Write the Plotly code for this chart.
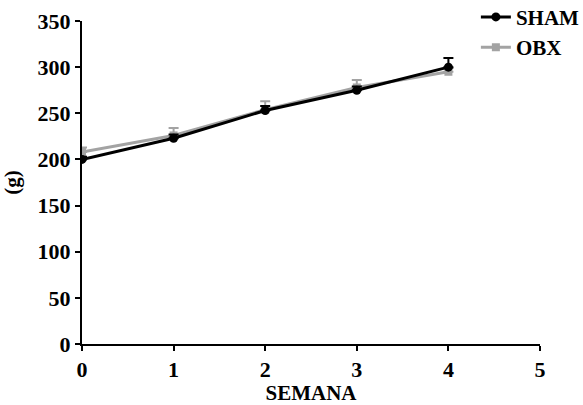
import plotly.graph_objects as go

# Body weight per week for each group
semana = [0, 1, 2, 3, 4]
sham_mean = [200, 223, 253, 275, 300]
sham_err = [3, 4, 5, 4, 10]
obx_mean = [208, 226, 254, 278, 295]
obx_err = [5, 8, 9, 8, 4]

font_family = "Liberation Serif"

fig = go.Figure()

fig.add_trace(go.Scatter(
    x=semana, y=obx_mean, name="<b>OBX</b>", mode="lines+markers",
    line=dict(color="#a3a3a3", width=3),
    marker=dict(symbol="square", size=8, color="#a3a3a3"),
    error_y=dict(type="data", array=obx_err, arrayminus=[0] * len(obx_err),
                 symmetric=False, color="#a3a3a3", thickness=2, width=5),
))
fig.add_trace(go.Scatter(
    x=semana, y=sham_mean, name="<b>SHAM</b>", mode="lines+markers",
    line=dict(color="black", width=3),
    marker=dict(symbol="circle", size=9, color="black"),
    error_y=dict(type="data", array=sham_err, arrayminus=[0] * len(sham_err),
                 symmetric=False, color="black", thickness=2, width=5),
))

axis_common = dict(
    showgrid=False, zeroline=False, showline=True, linecolor="black",
    linewidth=2, ticks="outside", ticklen=5, tickwidth=2, tickcolor="black",
    tickfont=dict(family=font_family, size=22, color="black"),
)

fig.update_xaxes(
    range=[0, 5], tickvals=[0, 1, 2, 3, 4, 5],
    ticktext=["<b>%d</b>" % v for v in [0, 1, 2, 3, 4, 5]],
    title=dict(text="<b>SEMANA</b>", font=dict(family=font_family, size=21, color="black"),
               standoff=6),
    **axis_common,
)
fig.update_yaxes(
    range=[0, 350], tickvals=list(range(0, 351, 50)),
    ticktext=["<b>%d</b>" % v for v in range(0, 351, 50)],
    title=dict(text="<b>(g)</b>", font=dict(family=font_family, size=21, color="black"),
               standoff=16),
    **axis_common,
)

fig.update_layout(
    width=583, height=405,
    margin=dict(l=82, r=43, t=21, b=61, autoexpand=False),
    plot_bgcolor="white", paper_bgcolor="white",
    showlegend=True,
    legend=dict(x=0.86, y=1.075, xanchor="left", yanchor="top",
                traceorder="reversed", bgcolor="rgba(0,0,0,0)",
                font=dict(family=font_family, size=21, color="black"),
                itemwidth=30, tracegroupgap=0),
)

fig.write_html("out.html")
